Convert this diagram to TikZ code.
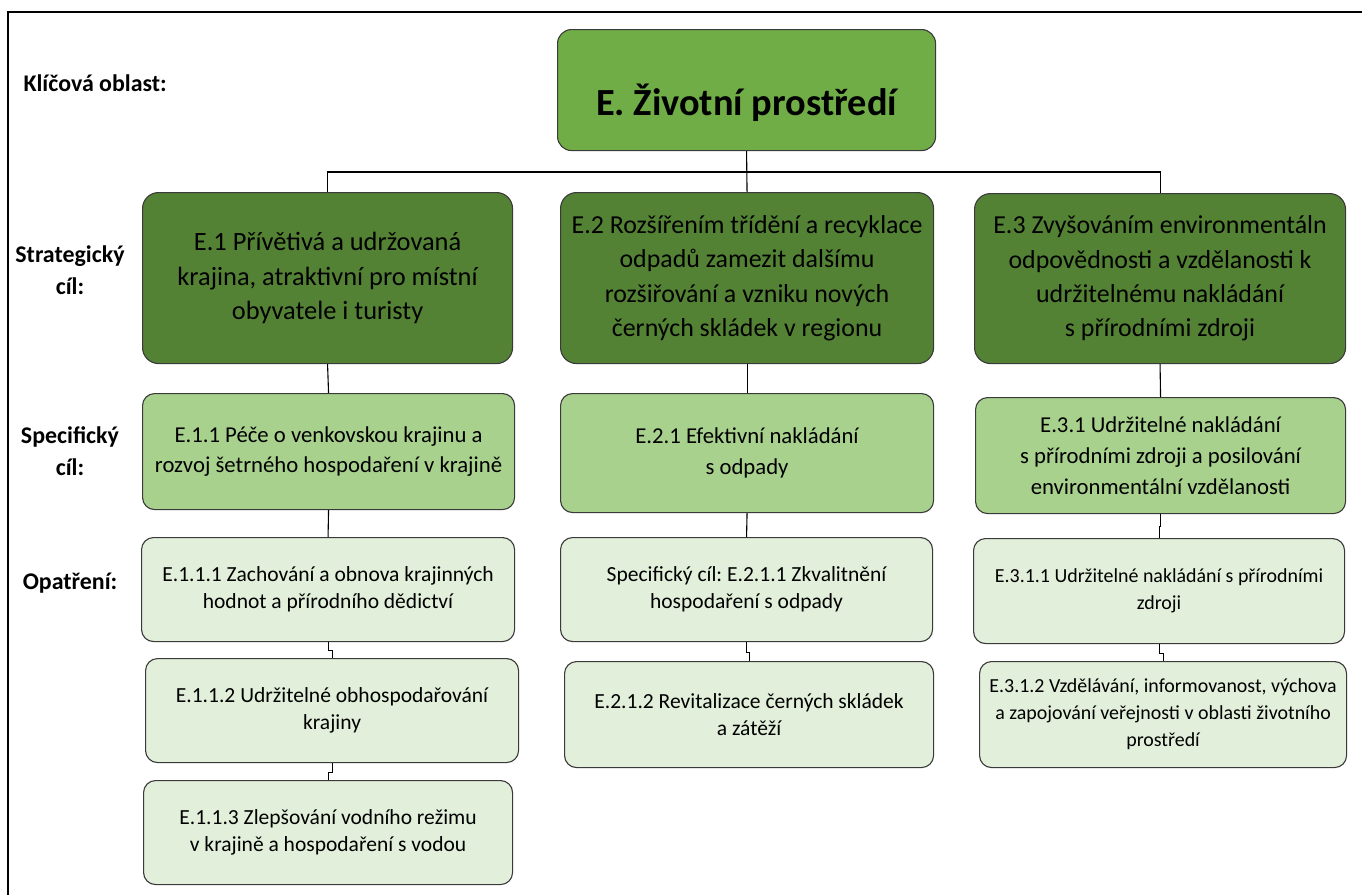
\documentclass[tikz,border=0pt]{standalone}
\usepackage{fontspec}
\setmainfont{Carlito}
\usetikzlibrary{positioning}
\definecolor{areagreen}{HTML}{70AD47}
\definecolor{goalgreen}{HTML}{548235}
\definecolor{specgreen}{HTML}{A9D18E}
\definecolor{measgreen}{HTML}{E2EFDA}
\definecolor{edgegray}{HTML}{3A3A3A}
\frenchspacing

\begin{document}
\begin{tikzpicture}[x=1bp,y=-1bp,
  box/.style={draw=edgegray,line width=1.1bp,rounded corners=#1,align=center,
    anchor=north west,inner sep=0pt},
  box/.default=10bp,
  area/.style={box=14bp,fill=areagreen,font=\bfseries\fontsize{38.5}{44}\selectfont,
    text height=50bp,text depth=0bp},
  goal/.style={box=16bp,fill=goalgreen,font=\fontsize{26}{34.5}\selectfont},
  spec/.style={box=12bp,fill=specgreen,font=\fontsize{22.8}{31}\selectfont},
  meas/.style={box=12bp,fill=measgreen,font=\fontsize{21.6}{27.5}\selectfont},
  measnarrow/.style={meas,font=\fontsize{20}{27}\selectfont},
  level/.style={font=\bfseries\fontsize{24}{32}\selectfont,align=center},
  link/.style={draw=black,line width=1.1bp},
  frame/.style={draw=black,line width=1.6bp}]
\useasboundingbox (0,0) rectangle (1362,894);
\draw[frame] (8,12) rectangle (1390,920);
% row labels
\node[level,anchor=west] (lblarea) at (20,83) {Klíčová oblast:};
\node[level] (lblgoal) at (70,270) {Strategický\\cíl:};
\node[level] (lblspec) at (70,451) {Specifický\\cíl:};
\node[level] (lblmeas) at (70,583) {Opatření:};
% key area
\node[area,minimum width=378bp,minimum height=121bp] (area) at (557,29)
  {E. Životní prostředí};
% strategic goals
\node[goal,minimum width=370bp,minimum height=171bp,font=\fontsize{26.5}{35}\selectfont] (g1) at (142,192)
  {E.1 Přívětivá a udržovaná\\krajina, atraktivní pro místní\\obyvatele i turisty};
\node[goal,minimum width=373bp,minimum height=171bp] (g2) at (560,192)
  {E.2 Rozšířením třídění a recyklace\\odpadů zamezit dalšímu\\rozšiřování a vzniku nových\\černých skládek v regionu};
\node[goal,minimum width=371bp,minimum height=170bp] (g3) at (974,193)
  {E.3 Zvyšováním environmentáln\\odpovědnosti a vzdělanosti k\\udržitelnému nakládání\\s~přírodními zdroji};
% specific goals
\node[spec,minimum width=372bp,minimum height=116bp] (s1) at (142,393)
  {E.1.1 Péče o venkovskou krajinu a\\rozvoj šetrného hospodaření v krajině};
\node[spec,minimum width=373bp,minimum height=119bp] (s2) at (560,393)
  {E.2.1 Efektivní nakládání\\s~odpady};
\node[spec,minimum width=370bp,minimum height=116bp] (s3) at (975,397)
  {E.3.1 Udržitelné nakládání\\s~přírodními zdroji a posilování\\environmentální vzdělanosti};
% measures
\node[meas,minimum width=373bp,minimum height=104bp] (m111) at (141,537)
  {E.1.1.1 Zachování a obnova krajinných\\hodnot a přírodního dědictví};
\node[meas,minimum width=373bp,minimum height=104bp] (m112) at (145,658)
  {E.1.1.2 Udržitelné obhospodařování\\krajiny};
\node[meas,minimum width=369bp,minimum height=104bp] (m113) at (143,780)
  {E.1.1.3 Zlepšování vodního režimu\\v~krajině a hospodaření s~vodou};
\node[meas,minimum width=372bp,minimum height=104bp] (m211) at (560,537)
  {Specifický cíl: E.2.1.1 Zkvalitnění\\hospodaření s~odpady};
\node[meas,minimum width=369bp,minimum height=106bp] (m212) at (564,661)
  {E.2.1.2 Revitalizace černých skládek\\a zátěží};
\node[measnarrow,minimum width=371bp,minimum height=105bp] (m311) at (973,538)
  {E.3.1.1 Udržitelné nakládání s~přírodními\\zdroji};
\node[measnarrow,minimum width=367bp,minimum height=106bp] (m312) at (979,661)
  {E.3.1.2 Vzdělávání, informovanost, výchova\\a zapojování veřejnosti v~oblasti životního\\prostředí};
% connectors
\draw[link] (area.south) -- (g2.north);
\draw[link] (g1.north) -- ++(0,-20) -| (g3.north);
\draw[link] (g1.south) -- (s1.north);
\draw[link] (g2.south) -- (s2.north);
\draw[link] (g3.south) -- (s3.north);
\draw[link] (s1.south) -- (m111.north);
\draw[link] (s2.south) -- (m211.north);
\draw[link] (s3.south) -- ++(0,12) -| (m311.north);
\draw[link] (m111.south) -- ++(0,8) -| (m112.north);
\draw[link] (m112.south) -- ++(0,9) -| (m113.north);
\draw[link] (m211.south) -- ++(0,10) -| (m212.north);
\draw[link] (m311.south) -- ++(0,9) -| (m312.north);
\end{tikzpicture}
\end{document}
